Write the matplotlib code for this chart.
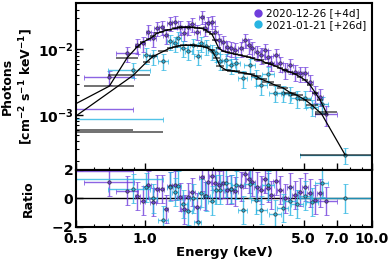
import numpy as np
import matplotlib
matplotlib.use('Agg')
import matplotlib.pyplot as plt
from matplotlib.lines import Line2D
from matplotlib.ticker import NullFormatter, LogLocator, FixedLocator

plt.rcParams['mathtext.default'] = 'bf'

# Epoch 1 : 2020-12-26 [+4d]
e1 = [0.30, 0.70, 0.84, 0.93, 0.98, 1.04, 1.09, 1.13, 1.19, 1.24, 1.29, 1.36, 1.43, 1.49, 1.55, 1.62,
      1.70, 1.78, 1.85, 1.90, 1.98, 2.04, 2.12, 2.22, 2.31, 2.40, 2.51, 2.65, 2.76, 2.87, 2.98, 3.12,
      3.25, 3.39, 3.49, 3.60, 3.79, 3.94, 4.14, 4.36, 4.59, 4.83, 5.08, 5.34, 5.62, 5.91, 6.28]
xlo1 = [0.20, 0.16, 0.09, 0.025, 0.025, 0.028, 0.03, 0.03, 0.032, 0.033, 0.035, 0.037, 0.038, 0.04, 0.042, 0.044,
        0.046, 0.048, 0.05, 0.051, 0.053, 0.055, 0.057, 0.06, 0.062, 0.065, 0.068, 0.072, 0.075, 0.078, 0.08, 0.085,
        0.09, 0.1, 0.1, 0.1, 0.12, 0.12, 0.13, 0.14, 0.15, 0.16, 0.17, 0.18, 0.19, 0.2, 0.68]
xhi1 = [0.59, 0.20, 0.10, 0.025, 0.025, 0.028, 0.03, 0.03, 0.032, 0.033, 0.035, 0.037, 0.038, 0.04, 0.042, 0.044,
        0.046, 0.048, 0.05, 0.051, 0.053, 0.055, 0.057, 0.06, 0.062, 0.065, 0.068, 0.072, 0.075, 0.078, 0.08, 0.085,
        0.09, 0.1, 0.1, 0.1, 0.12, 0.12, 0.13, 0.14, 0.15, 0.16, 0.17, 0.18, 0.19, 0.2, 0.72]
f1 = [1.23e-3, 3.8e-3, 8.7e-3, 1.15e-2, 1.23e-2, 1.85e-2, 1.47e-2, 2.08e-2, 2.2e-2, 1.63e-2, 2.5e-2, 2.65e-2,
      2.2e-2, 1.8e-2, 2.2e-2, 2.4e-2, 1.85e-2, 3.15e-2, 2.08e-2, 2.5e-2, 2.65e-2, 1.85e-2, 1.37e-2, 1.28e-2,
      1.07e-2, 1.04e-2, 9.7e-3, 1.04e-2, 1.37e-2, 1.15e-2, 1.04e-2, 9.0e-3, 8.1e-3, 9.7e-3, 7.6e-3, 6.3e-3,
      8.1e-3, 6.1e-3, 4.8e-3, 5.7e-3, 4.5e-3, 4.3e-3, 4.3e-3, 3.2e-3, 2.15e-3, 1.9e-3, 1.04e-3]
err1 = [3.3e-4, 0.9e-3, 2.2e-3, 3.0e-3, 3.2e-3, 4.6e-3, 3.8e-3, 5.0e-3, 5.3e-3, 4.2e-3, 5.8e-3, 6.2e-3,
        5.2e-3, 4.5e-3, 5.2e-3, 5.6e-3, 4.6e-3, 7.0e-3, 5.0e-3, 5.8e-3, 6.0e-3, 4.5e-3, 3.5e-3, 3.3e-3,
        2.8e-3, 2.7e-3, 2.6e-3, 2.7e-3, 3.4e-3, 2.9e-3, 2.7e-3, 2.4e-3, 2.2e-3, 2.5e-3, 2.0e-3, 1.7e-3,
        2.1e-3, 1.6e-3, 1.3e-3, 1.5e-3, 1.2e-3, 1.15e-3, 1.15e-3, 0.9e-3, 0.6e-3, 0.55e-3, 0.35e-3]
m1 = [5.9e-4, 2.75e-3, 7.5e-3, 1.1e-2, 1.28e-2, 1.42e-2, 1.57e-2, 1.75e-2, 1.85e-2, 1.94e-2, 2.0e-2, 2.08e-2,
      2.15e-2, 2.15e-2, 2.15e-2, 2.15e-2, 2.12e-2, 2.08e-2, 2.0e-2, 1.85e-2, 1.69e-2, 1.37e-2, 1.04e-2, 9.3e-3,
      9.0e-3, 8.7e-3, 8.4e-3, 8.1e-3, 7.8e-3, 7.6e-3, 7.3e-3, 7.0e-3, 6.8e-3, 6.3e-3, 6.1e-3, 5.9e-3,
      5.5e-3, 5.15e-3, 4.8e-3, 4.5e-3, 4.2e-3, 3.8e-3, 3.4e-3, 2.85e-3, 2.2e-3, 1.7e-3, 1.1e-3]

# Epoch 2 : 2021-01-21 [+26d]
e2 = [0.40, 0.89, 1.02, 1.09, 1.21, 1.29, 1.36, 1.41, 1.48, 1.56, 1.64, 1.71, 1.77, 1.87, 1.97, 2.07, 2.15,
      2.29, 2.40, 2.53, 2.70, 2.90, 3.09, 3.26, 3.49, 3.75, 4.05, 4.36, 4.68, 5.08, 5.43, 6.00, 7.60]
xlo2 = [0.27, 0.20, 0.04, 0.04, 0.06, 0.04, 0.04, 0.04, 0.05, 0.05, 0.06, 0.06, 0.06, 0.07, 0.07, 0.08, 0.08,
        0.1, 0.1, 0.1, 0.13, 0.15, 0.16, 0.18, 0.2, 0.22, 0.24, 0.25, 0.28, 0.3, 0.33, 0.4, 2.8]
xhi2 = [0.81, 0.17, 0.04, 0.04, 0.06, 0.04, 0.04, 0.04, 0.05, 0.05, 0.06, 0.06, 0.06, 0.07, 0.07, 0.08, 0.08,
        0.1, 0.1, 0.1, 0.13, 0.15, 0.16, 0.18, 0.2, 0.22, 0.24, 0.25, 0.28, 0.3, 0.33, 0.4, 4.4]
f2 = [8.8e-4, 4.9e-3, 8.1e-3, 7.8e-3, 6.6e-3, 1.32e-2, 1.23e-2, 1.47e-2, 1.04e-2, 9.3e-3, 1.15e-2, 7.8e-3,
      1.23e-2, 1.11e-2, 9.3e-3, 8.7e-3, 6.6e-3, 6.8e-3, 5.7e-3, 6.1e-3, 3.6e-3, 5.7e-3, 3.8e-3, 2.85e-3,
      4.2e-3, 2.2e-3, 2.2e-3, 2.1e-3, 1.8e-3, 1.8e-3, 1.33e-3, 1.47e-3, 2.5e-4]
err2 = [2.3e-4, 1.3e-3, 2.2e-3, 2.1e-3, 1.8e-3, 3.4e-3, 3.2e-3, 3.8e-3, 2.8e-3, 2.5e-3, 3.0e-3, 2.1e-3,
        3.2e-3, 2.9e-3, 2.5e-3, 2.3e-3, 1.8e-3, 1.8e-3, 1.5e-3, 1.6e-3, 1.0e-3, 1.5e-3, 1.0e-3, 0.8e-3,
        1.1e-3, 0.6e-3, 0.6e-3, 0.55e-3, 0.5e-3, 0.5e-3, 0.38e-3, 0.4e-3, 0.7e-4]
m2 = [5.6e-4, 4.0e-3, 6.4e-3, 7.8e-3, 9.3e-3, 1.04e-2, 1.09e-2, 1.13e-2, 1.15e-2, 1.15e-2, 1.15e-2, 1.13e-2,
      1.11e-2, 1.07e-2, 9.7e-3, 7.3e-3, 5.5e-3, 4.8e-3, 4.7e-3, 4.6e-3, 4.4e-3, 4.2e-3, 3.9e-3, 3.5e-3,
      3.2e-3, 2.85e-3, 2.6e-3, 2.2e-3, 2.0e-3, 1.7e-3, 1.42e-3, 1.04e-3, 2.5e-4]

labels = ['2020-12-26 [+4d]', '2021-01-21 [+26d]']
colors = ['#6f3ddc', '#27b4e2']

fig = plt.figure(figsize=(3.9, 2.59), dpi=100)
ax = fig.add_axes([0.195, 0.344, 0.759, 0.645])
axr = fig.add_axes([0.195, 0.124, 0.759, 0.220], sharex=ax)

sets = [(e1, xlo1, xhi1, f1, err1, m1), (e2, xlo2, xhi2, f2, err2, m2)]
for (e, xlo, xhi, f, err, m), c in zip(sets, colors):
    e = np.array(e)
    f = np.array(f)
    err = np.array(err)
    m = np.array(m)
    xerr = [xlo, xhi]
    ax.errorbar(e, f, xerr=xerr, yerr=err, fmt='o', ms=2.4, mfc=c, mec='#222222', mew=0.6,
                ecolor=c, elinewidth=1.0, capsize=1.8, capthick=0.8, alpha=0.8, zorder=2)
    ratio = (f - m) / err
    axr.errorbar(e, ratio, xerr=xerr, yerr=np.ones_like(ratio), fmt='o', ms=2.4, mfc=c,
                 mec='#222222', mew=0.6, ecolor=c, elinewidth=1.0, capsize=1.8, capthick=0.8,
                 alpha=0.8, zorder=2)

for (e, xlo, xhi, f, err, m) in sets:
    ax.errorbar(e, m, xerr=[xlo, xhi], fmt='none', ecolor='k', elinewidth=1.3, alpha=0.6, zorder=3)
    ax.plot(e, m, color='k', lw=0.9, zorder=4)

axr.axhline(0, color='k', lw=1.0, zorder=1)

ax.set_xscale('log')
ax.set_yscale('log')
ax.set_xlim(0.5, 10.0)
ax.set_ylim(1.46e-4, 5.1e-2)
axr.set_ylim(-2, 2)

axr.xaxis.set_major_locator(FixedLocator([0.5, 1.0, 5.0, 7.0, 10.0]))
axr.set_xticklabels(['0.5', '1.0', '5.0', '7.0', '10.0'])
axr.xaxis.set_minor_locator(LogLocator(base=10, subs=np.arange(2, 10) * 0.1, numticks=20))
axr.xaxis.set_minor_formatter(NullFormatter())
plt.setp(ax.get_xticklabels(), visible=False)
axr.set_yticks([-2, 0, 2])
axr.set_yticklabels(['$-$2', '0', '2'])

for a in (ax, axr):
    a.tick_params(which='major', direction='in', length=5, width=1.0, labelsize=10, pad=2)
    a.tick_params(which='minor', direction='in', length=2.5, width=0.8)
    for lab in a.get_xticklabels() + a.get_yticklabels():
        lab.set_fontweight('bold')
    for s in a.spines.values():
        s.set_linewidth(1.5)
axr.tick_params(axis='x', which='major', pad=3.5)

ax.set_ylabel('Photons\n[cm$^{-2}$ s$^{-1}$ keV$^{-1}$]', fontsize=9, fontweight='bold')
axr.set_ylabel('Ratio', fontsize=9, fontweight='bold')
ax.yaxis.set_label_coords(-0.14, 0.5)
axr.yaxis.set_label_coords(-0.14, 0.5)
axr.set_xlabel('Energy (keV)', fontsize=9.5, fontweight='bold', labelpad=0)

handles = [Line2D([], [], marker='o', ls='none', color=c, mec=c, ms=5) for c in colors]
ax.legend(handles, labels, loc='upper right', frameon=False, fontsize=7.5,
          handletextpad=0.2, borderaxespad=0.15, labelspacing=0.1, handlelength=1.2)

fig.savefig('out.png', dpi=100)
